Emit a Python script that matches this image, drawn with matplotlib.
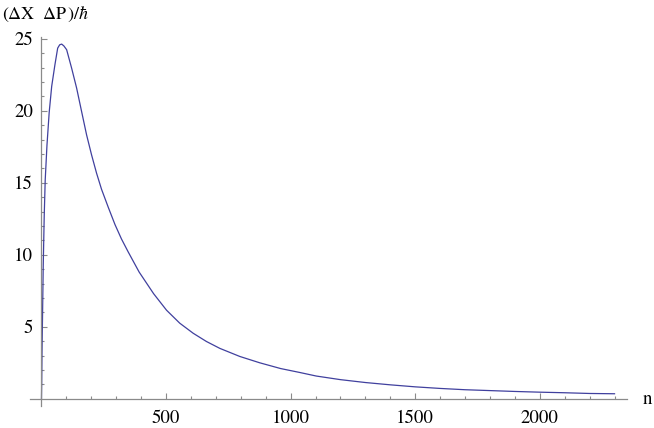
import numpy as np
import matplotlib
matplotlib.use("Agg")
import matplotlib.pyplot as plt
from matplotlib.ticker import FixedLocator

# ---------------------------------------------------------
# values
# ---------------------------------------------------------
n_vals = [0, 1, 2, 4, 7, 11, 15, 22, 31, 41, 54, 65, 73, 81, 90, 101, 121,
          141, 161, 181, 201, 221, 241, 268, 295, 321, 348, 392, 450, 502,
          555, 609, 662, 716, 796, 876, 960, 1036, 1103, 1200, 1300, 1400,
          1500, 1600, 1700, 1800, 1900, 2000, 2100, 2200, 2300]
dxdp = [0, 1.2, 3.0, 5.5, 9.2, 12.7, 15.2, 17.6, 19.9, 21.7, 23.2, 24.35,
        24.58, 24.63, 24.5, 24.24, 22.96, 21.58, 19.95, 18.33, 16.94, 15.67,
        14.55, 13.3, 12.1, 11.1, 10.2, 8.8, 7.3, 6.15, 5.25, 4.55, 3.98,
        3.5, 2.94, 2.5, 2.1, 1.83, 1.58, 1.33, 1.13, 0.97, 0.83, 0.72, 0.63,
        0.57, 0.51, 0.46, 0.42, 0.37, 0.35]

x_major = [500, 1000, 1500, 2000]
y_major = [5, 10, 15, 20, 25]

plt.rcParams['font.family'] = ['STIXGeneral', 'DejaVu Serif']
plt.rcParams['mathtext.fontset'] = 'stix'

axis_col = '#8a8a8a'
line_col = (0.25, 0.25, 0.62)

fig = plt.figure(figsize=(6.54, 4.28), dpi=100)
ax = fig.add_axes([0.0459, 0.0514, 0.9128, 0.8614])

ax.plot(n_vals, dxdp, color=line_col, lw=0.9, solid_joinstyle='round')

ax.set_xlim(-46, 2350)
ax.set_ylim(-0.5, 25.1)

for side in ['top', 'right']:
    ax.spines[side].set_visible(False)
ax.spines['left'].set_position(('data', 0))
ax.spines['bottom'].set_position(('data', 0))
for side in ['left', 'bottom']:
    ax.spines[side].set_color(axis_col)
    ax.spines[side].set_linewidth(0.9)

ax.xaxis.set_major_locator(FixedLocator(x_major))
ax.xaxis.set_minor_locator(FixedLocator([v for v in range(100, 2301, 100) if v % 500]))
ax.yaxis.set_major_locator(FixedLocator(y_major))
ax.yaxis.set_minor_locator(FixedLocator([v for v in range(1, 25) if v % 5]))

ax.tick_params(which='both', direction='in', color=axis_col, width=0.8,
               labelsize=13.5, labelcolor='black')
ax.tick_params(which='major', length=4)
ax.tick_params(which='minor', length=2.5)
ax.tick_params(axis='x', which='major', pad=8)
ax.tick_params(axis='y', which='major', pad=6)

fig.text(0.003, 0.967, r'$(\Delta\mathrm{X}\ \ \Delta\mathrm{P}\,)/\hbar$',
         fontsize=13, ha='left', va='center')
fig.text(0.983, 0.066, 'n', fontsize=13.5, ha='left', va='center')

fig.savefig("out.png", dpi=100)
